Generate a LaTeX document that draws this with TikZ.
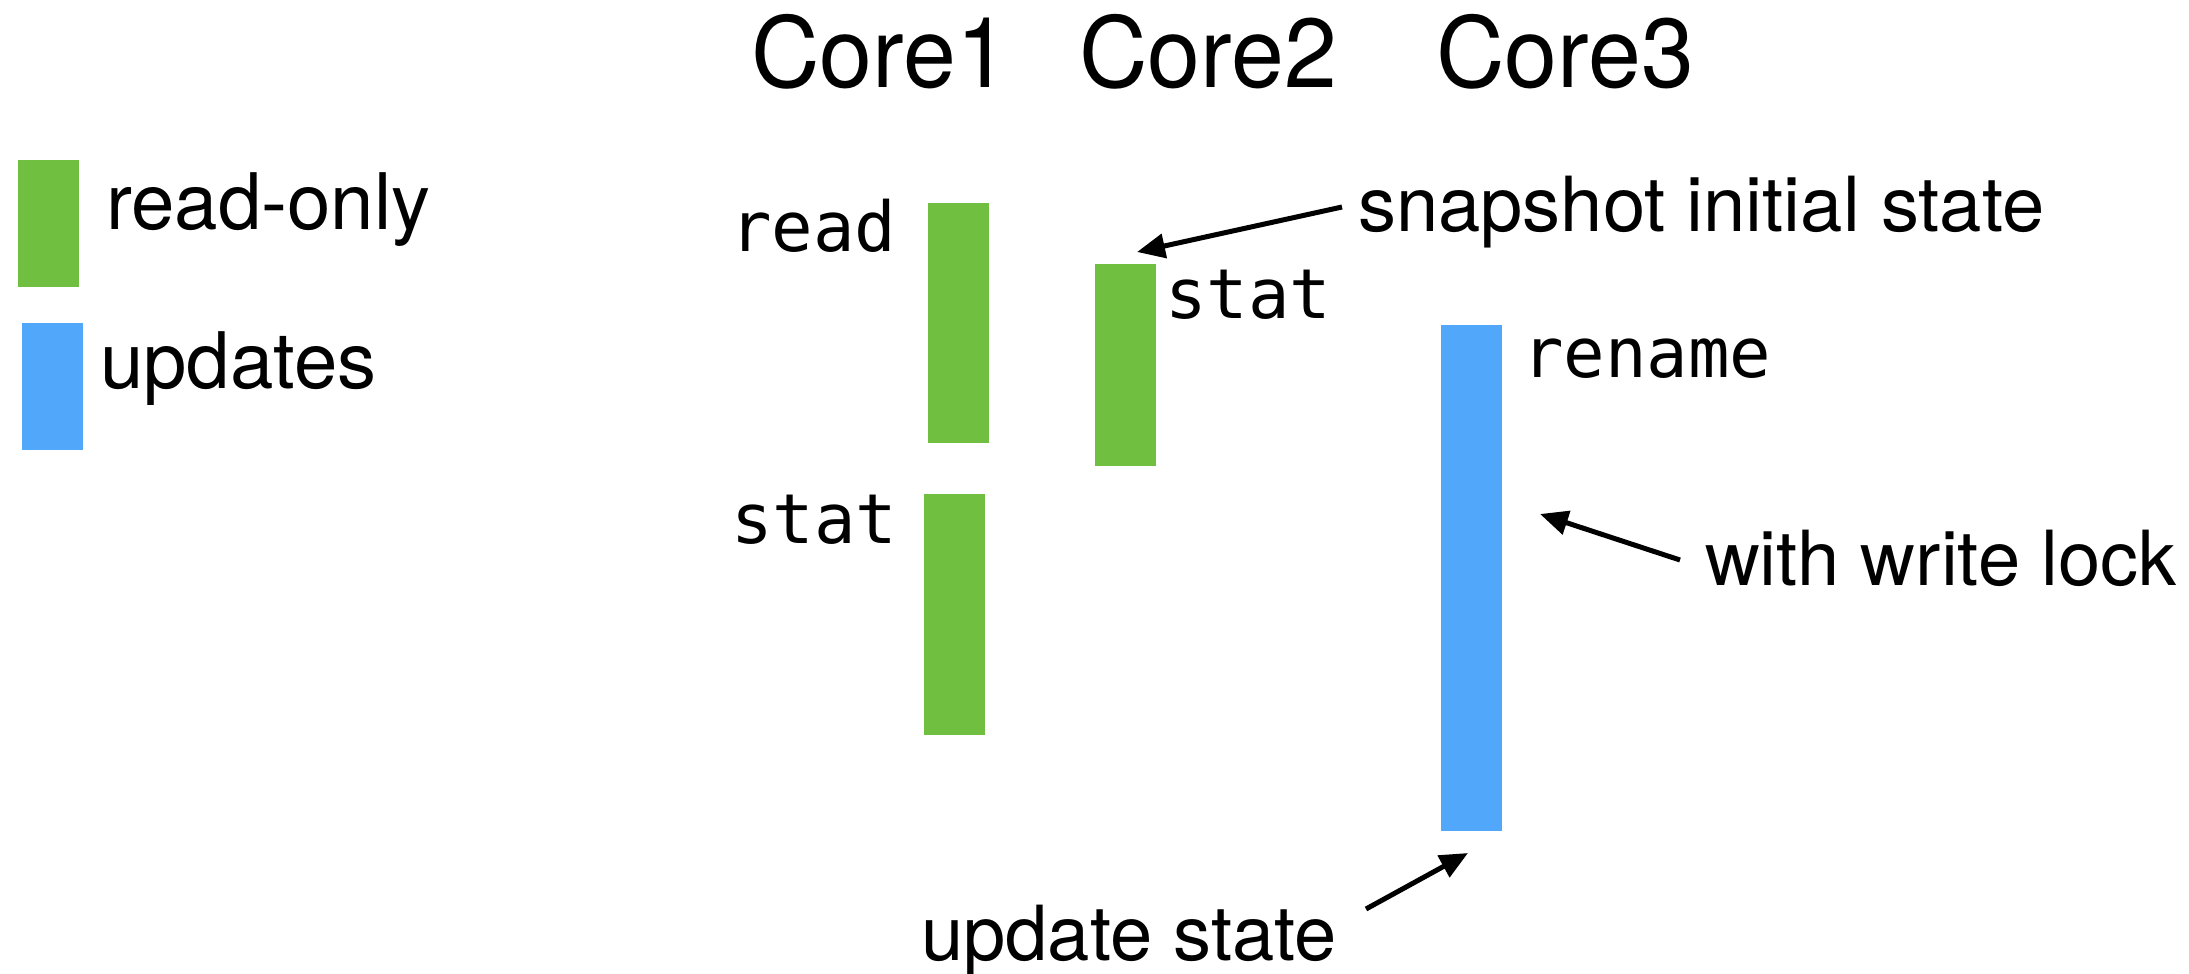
\documentclass[tikz,border=0pt]{standalone}
\usepackage{fontspec}
\setmainfont{TeX Gyre Heros}
\newfontfamily\corefont[FakeStretch=0.97]{TeX Gyre Heros}
\setmonofont{DejaVu Sans Mono}
\usetikzlibrary{arrows.meta}
\definecolor{rogreen}{RGB}{112,191,65}
\definecolor{upblue}{RGB}{81,167,249}

\begin{document}
\begin{tikzpicture}[x=0.5pt,y=-0.5pt,
  txt/.style={anchor=base west, inner sep=0pt, outer sep=0pt},
  coretext/.style={txt, font=\corefont\fontsize{49}{59}\selectfont},
  calltext/.style={txt, font=\fontsize{38}{46}\selectfont},
  monotext/.style={txt, font=\ttfamily\fontsize{34.5}{41}\selectfont},
  bar/.style={anchor=north west, inner sep=0pt, outer sep=0pt, draw=none,
              minimum width=30.5pt},
  readbar/.style={bar, fill=rogreen},
  updbar/.style={bar, fill=upblue},
  arr/.style={line width=2.5pt, -{Triangle[length=14pt,width=12pt]}}
]
\useasboundingbox (0,0) rectangle (2189,974);

% column headings
\node[coretext] (core1) at (751,88) {Core1};
\node[coretext] (core2) at (1079,88) {Core2};
\node[coretext] (core3) at (1436,88) {Core3};

% legend
\node[readbar, minimum height=63.5pt] (legr) at (18,160) {};
\node[updbar, minimum height=63.5pt] (legu) at (22,323) {};
\node[calltext, font=\fontsize{39}{47}\selectfont] (legrt) at (106,229) {read-only};
\node[calltext, font=\fontsize{39}{47}\selectfont] (legut) at (100,388) {updates};

% Core1: read, then stat
\node[readbar, minimum height=120pt] (read1) at (928,203) {};
\node[monotext] (readlbl) at (730,251) {read};
\node[readbar, minimum height=120.5pt] (stat1) at (924,494) {};
\node[monotext] (stat1lbl) at (731,543) {stat};

% Core2: stat
\node[readbar, minimum height=101pt] (stat2) at (1095,264) {};
\node[monotext] (stat2lbl) at (1165,318) {stat};

% Core3: rename
\node[updbar, minimum height=253pt] (ren3) at (1441,325) {};
\node[monotext] (renlbl) at (1522,377) {rename};

% callouts
\node[calltext] (snap) at (1358,231) {snapshot initial state};
\node[calltext] (lock) at (1705,585) {with write lock};
\node[calltext] (upd) at (921,960) {update state};

\coordinate (snaptail) at (1342,207);
\coordinate (snaptip) at (1137,252);
\coordinate (locktail) at (1680,560);
\coordinate (locktip) at (1540,514);
\coordinate (updtail) at (1366,909);
\coordinate (updtip) at (1468,853);

\draw[arr] (snaptail) -- (snaptip);
\draw[arr] (locktail) -- (locktip);
\draw[arr] (updtail) -- (updtip);
\end{tikzpicture}
\end{document}
